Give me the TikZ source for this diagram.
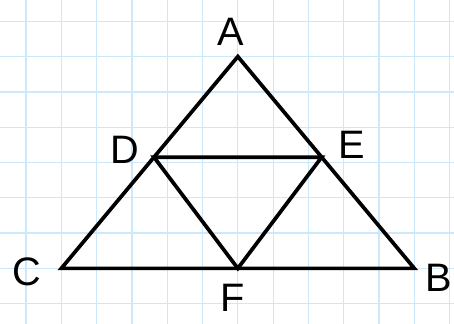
\documentclass[tikz,border=0pt]{standalone}
\usepackage{fontspec}
\setsansfont{Liberation Sans}
\usepackage{tikz}
\usetikzlibrary{calc}
\definecolor{gridblue}{RGB}{205,232,250}

\begin{document}
\begin{tikzpicture}[
  gridline/.style={draw=gridblue, line width=1pt},
  edge/.style={draw=black, line width=3pt, line join=miter, line cap=round},
  lbl/.style={font=\fontsize{32}{32}\selectfont\sffamily}
]

% ---- Paper ----
\fill[white] (-0.737,-0.575) rectangle (12.124,8.603);
\useasboundingbox (-0.737,-0.575) rectangle (12.124,8.603);
\draw[gridline] (-0.737,-0.575) grid (12.124,8.603);

% ---- Points ----
\coordinate (A) at (6,7);
\coordinate (C) at (1,1);
\coordinate (B) at (11,1);
\coordinate (F) at (6,1);
\coordinate (D) at ($(A)!0.475!(C)$);
\coordinate (E) at ($(A)!0.475!(B)$);

% ---- Triangles ----
\draw[edge] (A) -- (B) -- (C) -- cycle;
\draw[edge] (D) -- (E) -- (F) -- cycle;

% ---- Labels ----
\node[lbl] (lA) at (5.81,7.71) {A};
\node[lbl] (lD) at (2.80,4.36) {D};
\node[lbl] (lE) at (9.24,4.50) {E};
\node[lbl] (lC) at (0.02,0.91) {C};
\node[lbl] (lB) at (11.68,0.74) {B};
\node[lbl] (lF) at (5.86,0.17) {F};

\end{tikzpicture}
\end{document}
